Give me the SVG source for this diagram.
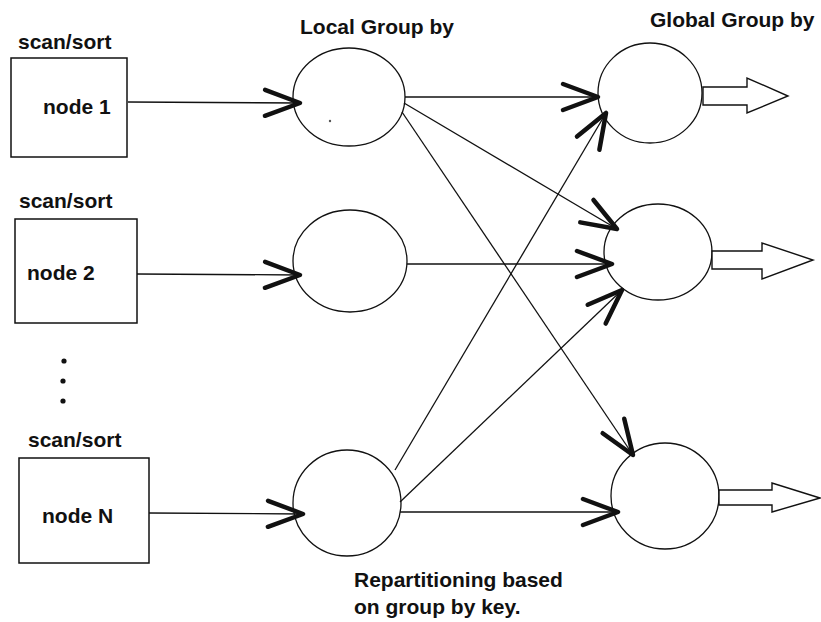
<svg xmlns="http://www.w3.org/2000/svg" width="821" height="622" viewBox="0 0 821 622">
<style>
  text { font-family: "Liberation Sans", Arial, sans-serif; font-weight: bold; font-size: 21px; fill: #111; }
  .box { fill: #fff; stroke: #111; stroke-width: 1.5; }
  .ell { fill: #fff; stroke: #111; stroke-width: 1.3; }
  .conn { fill: none; stroke: #111; stroke-width: 1.3; marker-end: url(#chev); }
  .out { fill: #fff; stroke: #111; stroke-width: 1.4; stroke-linejoin: miter; }
</style>
<defs>
  <marker id="chev" markerUnits="userSpaceOnUse" orient="auto" overflow="visible" markerWidth="1" markerHeight="1" refX="0" refY="0">
    <path d="M-35,-13 L0,0 L-35,13" fill="none" stroke="#111" stroke-width="4.5" stroke-linejoin="round" stroke-linecap="round"/>
  </marker>
</defs>
<rect width="821" height="622" fill="#fff"/>

<g id="node1">
  <text x="18" y="49">scan/sort</text>
  <rect class="box" x="11" y="58" width="116" height="99"/>
  <text x="43" y="114">node 1</text>
</g>
<g id="node2">
  <text x="19" y="208">scan/sort</text>
  <rect class="box" x="15" y="219" width="122" height="104"/>
  <text x="27" y="280">node 2</text>
</g>
<g id="ellipsis">
  <circle cx="64" cy="361" r="2.6" fill="#111"/>
  <circle cx="63" cy="381" r="2.6" fill="#111"/>
  <circle cx="63" cy="401" r="2.6" fill="#111"/>
</g>
<g id="nodeN">
  <text x="28" y="447">scan/sort</text>
  <rect class="box" x="19" y="458" width="130" height="105"/>
  <text x="42" y="523">node N</text>
</g>

<g id="local-label"><text x="300" y="34">Local Group by</text></g>
<g id="local1">
  <ellipse class="ell" cx="349" cy="97" rx="56" ry="49"/>
  <circle cx="330" cy="121" r="1.2" fill="#555"/>
</g>
<g id="local2"><ellipse class="ell" cx="350" cy="261" rx="57" ry="51"/></g>
<g id="local3"><ellipse class="ell" cx="347" cy="503" rx="54" ry="53"/></g>

<g id="global-label"><text x="650" y="27">Global Group by</text></g>
<g id="global1">
  <ellipse class="ell" cx="650" cy="93" rx="52" ry="50"/>
  <polygon class="out" points="703,87 747,87 747,78 788,96 747,113 747,105 703,105"/>
</g>
<g id="global2">
  <ellipse class="ell" cx="658" cy="252" rx="54" ry="48"/>
  <polygon class="out" points="712,251 762,251 762,243 813,260 762,279 762,269 712,269"/>
</g>
<g id="global3">
  <ellipse class="ell" cx="665" cy="496" rx="54" ry="53"/>
  <polygon class="out" points="719,490 772,490 772,483 820,498 772,512 772,505 719,505"/>
</g>

<g id="connectors">
  <line class="conn" x1="128" y1="102" x2="300" y2="103"/>
  <line class="conn" x1="137" y1="274" x2="300" y2="275"/>
  <line class="conn" x1="149" y1="513" x2="303" y2="514"/>

  <line class="conn" x1="405" y1="97" x2="598" y2="97"/>
  <line class="conn" x1="404" y1="103" x2="617" y2="229"/>
  <line class="conn" x1="402" y1="112" x2="633" y2="455"/>

  <line class="conn" x1="407" y1="264" x2="612" y2="264"/>

  <line class="conn" x1="395" y1="470" x2="606" y2="113"/>
  <line class="conn" x1="400" y1="502" x2="622" y2="290"/>
  <line class="conn" x1="400" y1="512" x2="618" y2="512"/>
</g>

<g id="caption">
  <text x="354" y="587">Repartitioning based</text>
  <text x="354" y="614">on group by key.</text>
</g>
</svg>
